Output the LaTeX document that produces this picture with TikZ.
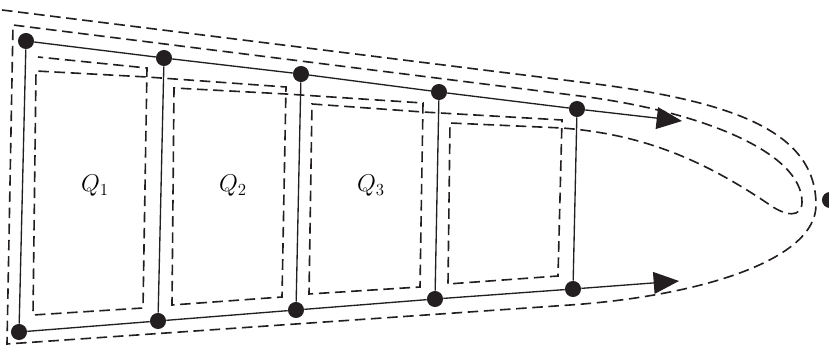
\documentclass[tikz,border=0pt]{standalone}
\definecolor{InkBlack}{RGB}{35,31,32}
\usetikzlibrary{arrows.meta, positioning}

\begin{document}
\begin{tikzpicture}[x=0.025cm, y=-0.025cm, font=\LARGE,
	dot/.style={circle, fill=InkBlack, inner sep=0pt, minimum size=11.4pt},
	edge/.style={line width=0.95pt, InkBlack},
	flow/.style={edge, -{Triangle[length=18pt, width=15.5pt]}},
	contour/.style={InkBlack, line width=1.15pt, dash pattern=on 7.5pt off 4pt}]
	\useasboundingbox (0,0) rectangle (829,347);
	\foreach \i/\xt/\yt/\xb/\yb in {1/26/41/19/332, 2/164/58/158/321,
		3/301/74/296/310, 4/439/92/435/299, 5/577/109/573/289}{
		\node[dot] (t\i) at (\xt,\yt) {};
		\node[dot] (b\i) at (\xb,\yb) {};
		\draw[edge] (t\i) -- (b\i);
	}
	\node[dot] (far) at (830,200) {};
	\coordinate (tend) at (682,121);
	\coordinate (bend) at (679,281);
	\foreach \i/\j in {1/2, 2/3, 3/4, 4/5}{
		\draw[edge] (t\i) -- (t\j);
		\draw[edge] (b\i) -- (b\j);
	}
	\draw[flow] (t5) -- (tend);
	\draw[flow] (b5) -- (bend);
	\foreach \k/\xq in {1/95, 2/233, 3/371}
		\node (q\k) at (\xq,186) {$Q_\k$};
	\draw[contour] (2,10) -- (580,82)
		.. controls (730,100) and (816,130) .. (816,205)
		.. controls (816,260) and (700,296) .. (570,305)
		-- (7,344) -- (13,25) -- (580,96)
		.. controls (700,111) and (802,152) .. (802,202)
		.. controls (802,218) and (786,217) .. (767,203)
		.. controls (700,158) and (640,134) .. (562,128)
		-- (450,123) -- (448,284) -- (558,276) -- (562,120)
		-- (423,112) -- (312,104) -- (309,294) -- (420,287) -- (423,103)
		-- (286,94) -- (174,88) -- (172,305) -- (282,297) -- (286,87)
		-- (147,77) -- (36,71) -- (33,315) -- (143,308) -- (147,68)
		-- (38,57);
\end{tikzpicture}
\end{document}
